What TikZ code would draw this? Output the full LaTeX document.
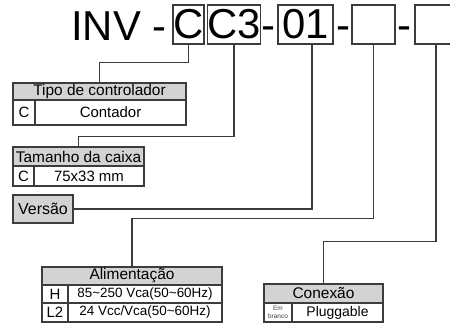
\documentclass[tikz,border=0pt]{standalone}
\usepackage{fontspec}
\setmainfont{Liberation Sans}
\usepackage{tikz}
\definecolor{hdrgray}{HTML}{D3D3D3}
\definecolor{edgegray}{HTML}{3C3C3C}
\tikzset{
  codebox/.style={draw=edgegray,line width=1.2bp,inner sep=0pt,font=\fontsize{42}{42}\selectfont},
  codedash/.style={font=\fontsize{42}{42}\selectfont,inner sep=0pt,anchor=base},
  hdrcell/.style={draw=edgegray,fill=hdrgray,line width=1.2bp,inner sep=0pt,font=\fontsize{15.5}{15.5}\selectfont},
  valcell/.style={draw=edgegray,line width=1.2bp,inner sep=0pt,font=\fontsize{15}{15}\selectfont},
  link/.style={draw=edgegray,line width=1.2bp}
}
\begin{document}
\begin{tikzpicture}[x=1bp,y=-1bp]
    \useasboundingbox (0,0) rectangle (450,323);
    \clip (0,0) rectangle (450,323);
    % code line
    \node[font=\fontsize{42}{42}\selectfont,anchor=base west,inner sep=0pt] (inv) at (71,40) {INV -};
    \node[codebox,minimum width=31bp,minimum height=39bp] (boxC) at (188.5,24.5) {\raisebox{-1bp}{C}};
    \node[codebox,minimum width=50bp,minimum height=39bp] (boxCthree) at (234,24.5) {\raisebox{-1bp}{C3}};
    \node[codedash] (dashA) at (268.5,39) {-};
    \node[codebox,minimum width=55bp,minimum height=39bp] (boxZero) at (305.5,24.5) {\raisebox{-1bp}{01}};
    \node[codedash] (dashB) at (343,39) {-};
    \node[codebox,minimum width=43bp,minimum height=39bp] (boxEa) at (373.5,24.5) {};
    \node[codedash] (dashC) at (404,39) {-};
    \node[codebox,minimum width=42bp,minimum height=39bp] (boxEb) at (436,24.5) {};
    % Tipo de controlador
    \node[hdrcell,minimum width=173bp,minimum height=17bp] (tipo) at (99.5,91.5) {Tipo de controlador};
    \node[valcell,minimum width=22bp,minimum height=25bp] (tipoK) at (24,112.5) {C};
    \node[valcell,minimum width=151bp,minimum height=25bp] (tipoV) at (110.5,112.5) {Contador};
    % Tamanho da caixa
    \node[hdrcell,minimum width=131bp,minimum height=19bp] (tam) at (78.5,156.5) {Tamanho da caixa};
    \node[valcell,minimum width=21bp,minimum height=20bp] (tamK) at (23.5,176) {C};
    \node[valcell,minimum width=110bp,minimum height=20bp] (tamV) at (89,176) {75x33 mm};
    % Versao
    \node[hdrcell,minimum width=60bp,minimum height=28bp,font=\fontsize{16}{16}\selectfont] (versao) at (43,209) {Versão};
    % Alimentacao
    \node[hdrcell,minimum width=180bp,minimum height=18bp] (alim) at (132,276) {Alimentação};
    \node[valcell,minimum width=26bp,minimum height=18bp] (alimHk) at (55,294) {H};
    \node[valcell,minimum width=154bp,minimum height=18bp,font=\fontsize{13.5}{13.5}\selectfont] (alimHv) at (145,294) {85\textasciitilde250 Vca(50\textasciitilde60Hz)};
    \node[valcell,minimum width=26bp,minimum height=19bp] (alimLk) at (55,312.5) {L2};
    \node[valcell,minimum width=154bp,minimum height=19bp,font=\fontsize{13.5}{13.5}\selectfont] (alimLv) at (145,312.5) {24 Vcc/Vca(50\textasciitilde60Hz)};
    % Conexao
    \node[hdrcell,minimum width=119bp,minimum height=19bp] (conex) at (323.5,293.5) {Conexão};
    \node[valcell,minimum width=28bp,minimum height=19bp,align=center,font=\fontsize{6.5}{7.5}\selectfont,text=edgegray] (conexK) at (278,312.5) {Em\\branco};
    \node[valcell,minimum width=91bp,minimum height=19bp,font=\fontsize{14}{14}\selectfont] (conexV) at (337.5,312.5) {Pluggable};
    % connectors
    \draw[link] (boxC.south) -- ++(0,18) -| (tipo.north);
    \draw[link] (boxCthree.south) -- ++(0,92) -| (tam.north);
    \draw[link] ([xshift=6.5bp]boxZero.south) |- (versao.east);
    \draw[link] (boxEa.south) -- ++(0,174) -| (alim.north);
    \draw[link] (boxEb.south) -- ++(0,197) -| (conex.north);
\end{tikzpicture}
\end{document}
